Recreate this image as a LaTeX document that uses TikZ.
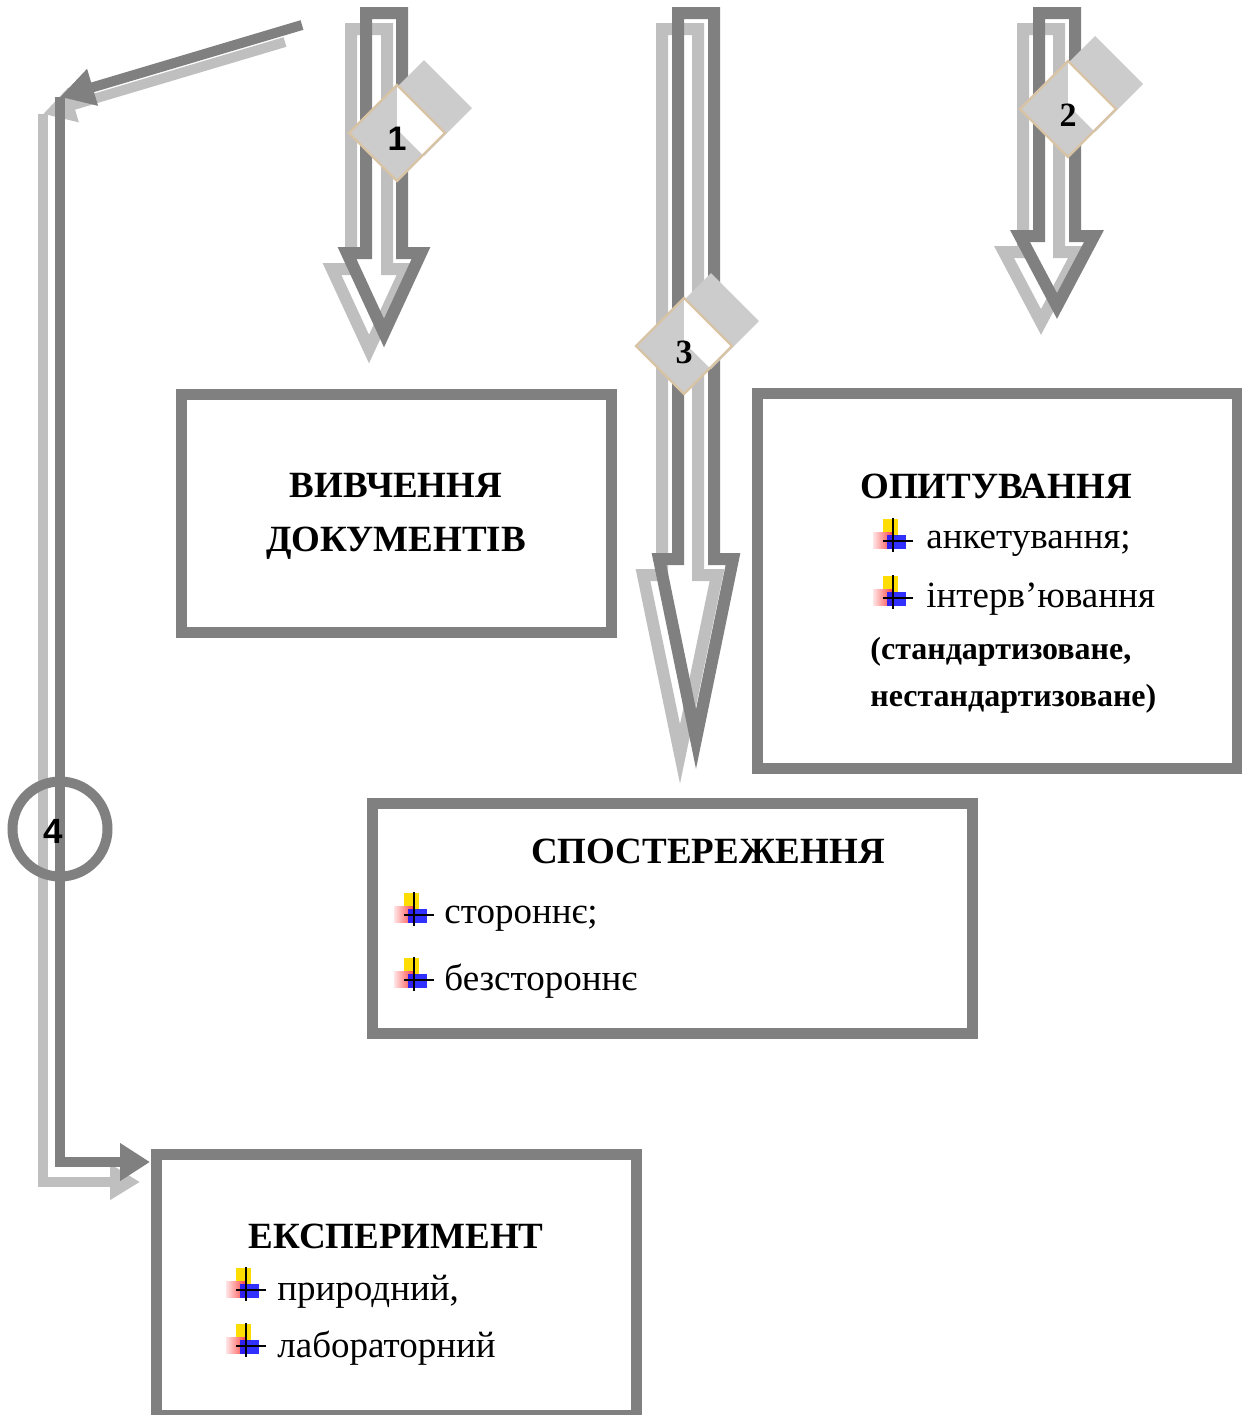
\documentclass[tikz,border=0pt]{standalone}
\usepackage{fontspec}
\setmainfont{Liberation Serif}
\newfontfamily\tagsans{Liberation Sans}
\usetikzlibrary{arrows.meta,calc}
\definecolor{frame}{HTML}{808080}
\definecolor{shade}{HTML}{BFBFBF}
\definecolor{tagfill}{HTML}{CCCCCC}
\definecolor{tagedge}{HTML}{D9C3A5}

\tikzset{
  % hollow block arrow: #1 = start of the head, #2 = tip
  pics/blockarrow/.style args={#1/#2}{code={
    \draw[line width=6pt] (-18,#1) -- (-18,0) -- (18,0) -- (18,#1) -- (37,#1) -- (0,#2) -- (-37,#1) -- cycle;
  }},
  % numbered diamond with its shadow
  pics/steptag/.style={code={
    \fill[tagfill] (27,-73) -- (75,-25) -- (27,23) -- (-21,-25) -- cycle;
    \fill[tagfill] (0,-48) -- (48,0) -- (0,48) -- (-48,0) -- cycle;
    \begin{scope}
      \clip (27,-73) -- (75,-25) -- (27,23) -- (-21,-25) -- cycle;
      \clip (0,-80) rectangle (80,80);
      \fill[white] (0,-48) -- (48,0) -- (0,48) -- (-48,0) -- cycle;
    \end{scope}
    \draw[tagedge,line width=1.2pt] (0,-48) -- (48,0) -- (0,48) -- (-48,0) -- cycle;
    \node[font=\fontsize{17}{20}\selectfont\bfseries,inner sep=0pt] (-label) at (0,6) {#1};
  }},
  % coloured cross bullet
  pics/plusmark/.style={code={
    \fill[yellow!80!orange] (-10,-22) rectangle (5,-5);
    \shade[left color=red!10,right color=red!75] (-20,-9) rectangle (0,7);
    \fill[blue!90,opacity=0.9] (-6,-6) rectangle (13,8);
    \draw[black,line width=1pt] (0,-23) -- (0,11) (-10,0) -- (20,0);
  }},
}

\begin{document}
\begin{tikzpicture}[x=0.5pt,y=-0.5pt,
    box/.style={draw=frame,line width=5.5pt,inner sep=0pt,outer sep=0pt},
    title/.style={font=\fontsize{18.5}{22}\selectfont\bfseries,anchor=base},
    item/.style={font=\fontsize{18.5}{22}\selectfont,anchor=base west,inner sep=0pt},
    note/.style={font=\fontsize{16}{19}\selectfont\bfseries,anchor=base west,inner sep=0pt},
    link/.style={draw=frame,line width=5pt},
    shadelink/.style={draw=shade,line width=5pt}
]
\useasboundingbox (0,0) rectangle (1242,1415);

% block arrows, shadow first
\pic[color=shade] at (369,29) {blockarrow={240/320}};
\pic[color=frame] at (384,13) {blockarrow={240/320}};
\pic[color=shade] at (1041,29) {blockarrow={223/293}};
\pic[color=frame] at (1057,13) {blockarrow={223/293}};
\pic[color=shade] at (680,29) {blockarrow={546/725}};
\pic[color=frame] at (696,13) {blockarrow={546/726}};

\pic (tag1) at (397,133) {steptag={\tagsans 1}};
\pic (tag2) at (1068,109) {steptag=2};
\pic (tag3) at (684,346) {steptag=3};

% boxes
\node[box,minimum width=215pt,minimum height=119pt] (docs) at (396,513) {};
\node[box,minimum width=240pt,minimum height=187.5pt] (survey) at (997,580.5) {};
\node[box,minimum width=300pt,minimum height=115pt] (observe) at (672,918) {};
\node[box,minimum width=240pt,minimum height=130.5pt] (experiment) at (396,1284.5) {};

% bent connector to the experiment
\coordinate (startS) at (285,42);
\coordinate (turnS) at (43,114);
\coordinate (endS) at (140,1182);
\coordinate (start) at (302,25);
\coordinate (turn) at (60,97);
\draw[shadelink,-{Triangle[length=16pt,width=17pt]}] (startS) -- (turnS);
\draw[shadelink,-{Triangle[length=15pt,width=17pt]}] (turnS) |- (endS);
\draw[link,-{Triangle[length=17pt,width=18pt]}] (start) -- (turn);
\draw[link,-{Triangle[length=15pt,width=18pt]}] (turn) |- ($(experiment.north west)+(-6,8)$);
\node[circle,draw=frame,line width=5pt,minimum size=47.5pt,inner sep=0pt] (stage4) at (60,829) {};
\node[font=\fontsize{17.5}{20}\selectfont\bfseries\tagsans,inner sep=0pt] (num4) at (53,831) {4};

% texts
\node[title] (docsA) at (396,497) {ВИВЧЕННЯ};
\node[title] (docsB) at (396,551) {ДОКУМЕНТІВ};

\node[title] (surveyT) at (996,498) {ОПИТУВАННЯ};
\pic at (893,541) {plusmark};
\node[item] (quest) at (926,548) {анкетування;};
\pic at (893,598) {plusmark};
\node[item] (interv) at (926,607) {інтерв’ювання};
\node[note] (kindA) at (870,659) {(стандартизоване,};
\node[note] (kindB) at (870,706) {нестандартизоване)};

\node[title] (observeT) at (708,863) {СПОСТЕРЕЖЕННЯ};
\pic at (414,915) {plusmark};
\node[item] (side) at (444,923) {стороннє;};
\pic at (414,980) {plusmark};
\node[item] (noside) at (444,990) {безстороннє};

\node[title] (experT) at (396,1248) {ЕКСПЕРИМЕНТ};
\pic at (246,1290) {plusmark};
\node[item] (natural) at (277,1300) {природний,};
\pic at (246,1346) {plusmark};
\node[item] (lab) at (277,1357) {лабораторний};
\end{tikzpicture}
\end{document}
